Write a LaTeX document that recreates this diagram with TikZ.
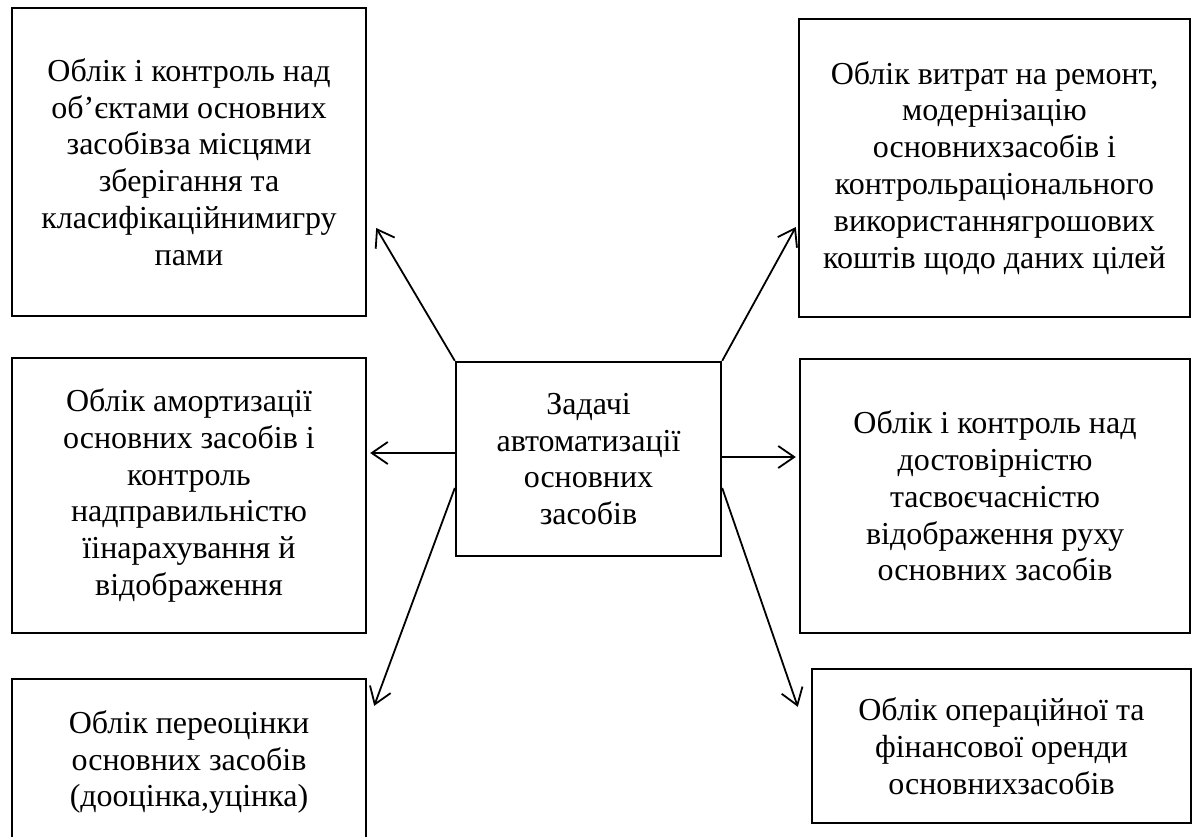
\documentclass[tikz,border=0pt]{standalone}
\usepackage{fontspec}
\setmainfont{Liberation Serif}
\usepackage{tikz}
\usetikzlibrary{positioning,arrows.meta}

\begin{document}
\begin{tikzpicture}[x=0.5pt, y=-0.5pt,
  >={Straight Barb[length=8pt,width=11pt]},
  box/.style={draw, line width=1.2pt, align=center, inner sep=0pt,
    font=\fontsize{16}{18.4}\selectfont},
  arr/.style={->, line width=0.9pt}]
\useasboundingbox (0,0) rectangle (1194,836);

% centre
\node[box, minimum width=132.5pt, minimum height=97pt] (C) at (588.5,459)
  {Задачі\\автоматизації\\основних\\засобів};

% left boxes
\node[box, minimum width=177pt, minimum height=154pt] (TL) at (189,162)
  {Облік і контроль над\\об’єктами основних\\засобівза місцями\\зберігання та\\класифікаційнимигру\\пами};
\node[box, minimum width=177pt, minimum height=137.5pt] (ML) at (189,495.5)
  {Облік амортизації\\основних засобів і\\контроль\\надправильністю\\їінарахування й\\відображення};
\node[box, minimum width=177pt, minimum height=83pt] (BL) at (189,762)
  {Облік переоцінки\\основних засобів\\(дооцінка,уцінка)};

% right boxes
\node[box, minimum width=195.5pt, minimum height=149pt] (TR) at (994.5,168)
  {Облік витрат на ремонт,\\модернізацію\\основнихзасобів і\\контрольраціонального\\використаннягрошових\\коштів щодо даних цілей};
\node[box, minimum width=195pt, minimum height=137pt] (MR) at (995,496)
  {Облік і контроль над\\достовірністю\\тасвоєчасністю\\відображення руху\\основних засобів};
\node[box, minimum width=189.5pt, minimum height=77pt] (BR) at (1001.5,746)
  {Облік операційної та\\фінансової оренди\\основнихзасобів};

% arrows
\draw[arr] (C.north west) -- ([shift={(9,66)}]TL.east);
\draw[arr] (C.north east) -- ([shift={(-2,59)}]TR.west);
\draw[arr] ([shift={(0,-6)}]C.west) -- ([shift={(3,-42.5)}]ML.east);
\draw[arr] ([shift={(0,-2)}]C.east) -- ([shift={(-3,-39)}]MR.west);
\draw[arr] ([shift={(0,29)}]C.west) -- ([shift={(7,28)}]BL.north east);
\draw[arr] ([shift={(0,29)}]C.east) -- ([shift={(-13,39)}]BR.north west);
\end{tikzpicture}
\end{document}
